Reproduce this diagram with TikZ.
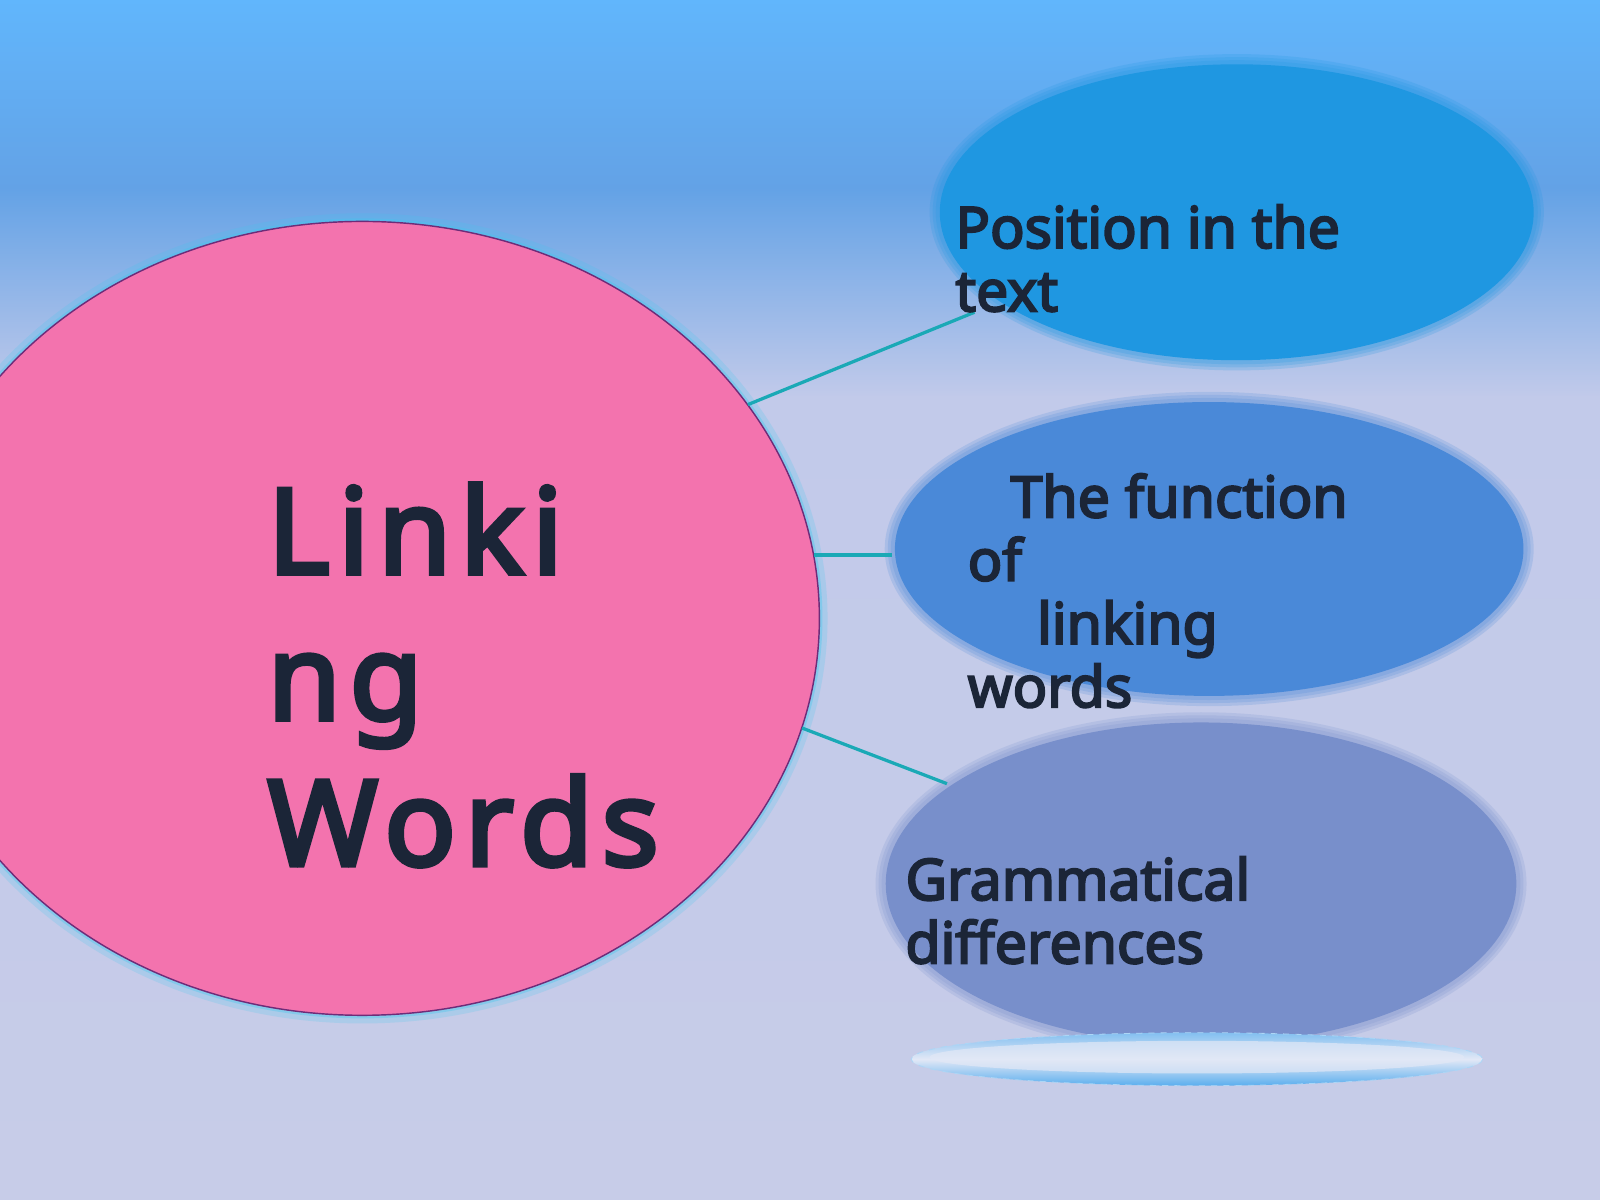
\documentclass[tikz,border=0pt]{standalone}
\usepackage{fontspec}
\newfontfamily\labfont{Noto Sans}[FakeBold=3.6]
\newfontfamily\bigfont{Noto Sans}[FakeBold=4, LetterSpace=7.5]
\usetikzlibrary{shapes.geometric}
\definecolor{skytop}{HTML}{61B6FC}
\definecolor{skymid}{HTML}{63A2E6}
\definecolor{lav}{HTML}{C2CAEA}
\definecolor{lavbot}{HTML}{C7CCE8}
\definecolor{pinkfill}{HTML}{F373AE}
\definecolor{pinkline}{HTML}{6E2C78}
\definecolor{glowcyan}{HTML}{3FC8EE}
\definecolor{ellA}{HTML}{1F97E1}
\definecolor{ellB}{HTML}{4A89D8}
\definecolor{ellC}{HTML}{788FCB}
\definecolor{conn}{HTML}{1AA9B6}
\definecolor{ink}{HTML}{1B2537}
\definecolor{refl}{HTML}{E2E8F6}
\definecolor{reflblue}{HTML}{5AAEEE}
\tikzset{
  label text/.style={font=\labfont\fontsize{28}{31}\selectfont, text=ink, align=left, inner sep=0pt, anchor=base west},
  connector/.style={draw=conn, line width=1.6pt},
  blob/.style={ellipse, inner sep=0pt},
}
\begin{document}
\begin{tikzpicture}[x=0.5pt,y=-0.5pt]
\useasboundingbox (0,0) rectangle (1568,1176);
% background
\shade[top color=skytop, bottom color=skymid] (0,-1) rectangle (1568,185);
\shade[top color=skymid, bottom color=lav] (0,184) rectangle (1568,390);
\shade[top color=lav, bottom color=lavbot] (0,389) rectangle (1568,1177);

% pink main ellipse
\node[blob, minimum width=448pt, minimum height=389pt] (main) at (355,606) {};
\fill[glowcyan, opacity=0.2] (main.center) ellipse [x radius=456, y radius=397];
\fill[glowcyan, opacity=0.35] (main.center) ellipse [x radius=451, y radius=392];
\fill[pinkfill, draw=pinkline, line width=0.7pt] (main.center) ellipse [x radius=448, y radius=389];

% right ellipses with soft edges
\foreach \cx/\cy/\rx/\ry/\col in {1212/208/293/147/ellA, 1185/538/310/146/ellB, 1177/866/311/160/ellC}{
  \foreach \k in {8,5,2}{
    \fill[\col, opacity=0.2] (\cx,\cy) ellipse [x radius=\rx+\k, y radius=\ry+\k];
  }
  \fill[\col] (\cx,\cy) ellipse [x radius=\rx-2, y radius=\ry-2];
}
\node[blob, minimum width=293pt, minimum height=147pt] (e1) at (1212,208) {};
\node[blob, minimum width=310pt, minimum height=146pt] (e2) at (1185,541) {};
\node[blob, minimum width=311pt, minimum height=160pt] (e3) at (1177,866) {};

% reflection
\shade[top color=reflblue!70!refl, bottom color=reflblue, middle color=refl, draw=reflblue!50!white, dashed, line width=0.4pt]
  (1173,1038) ellipse [x radius=280, y radius=26];
\fill[refl, opacity=0.7] (1173,1036) ellipse [x radius=262, y radius=16];

% connectors
\coordinate (c1) at (955,306);
\coordinate (c3) at (928,768);
\draw[connector] (main.29) -- (c1);
\draw[connector] (main.8.5) -- (main.8.5 -| e2.west);
\draw[connector] (main.-14) -- (c3);

% labels
\node[label text] (t1) at (936,305) {Position in the\\text};
\node[label text] (t2) at (948,693) {\hspace*{21pt}The function\\of\\\hspace*{34pt}linking\\words};
\node[label text] (t3) at (887,944) {Grammatical\\differences};
\node[font=\bigfont\fontsize{58}{71.5}\selectfont, text=ink, align=left, inner sep=0pt, anchor=base west] (tm) at (262,848) {Linki\\ng\\Words};
\end{tikzpicture}
\end{document}
